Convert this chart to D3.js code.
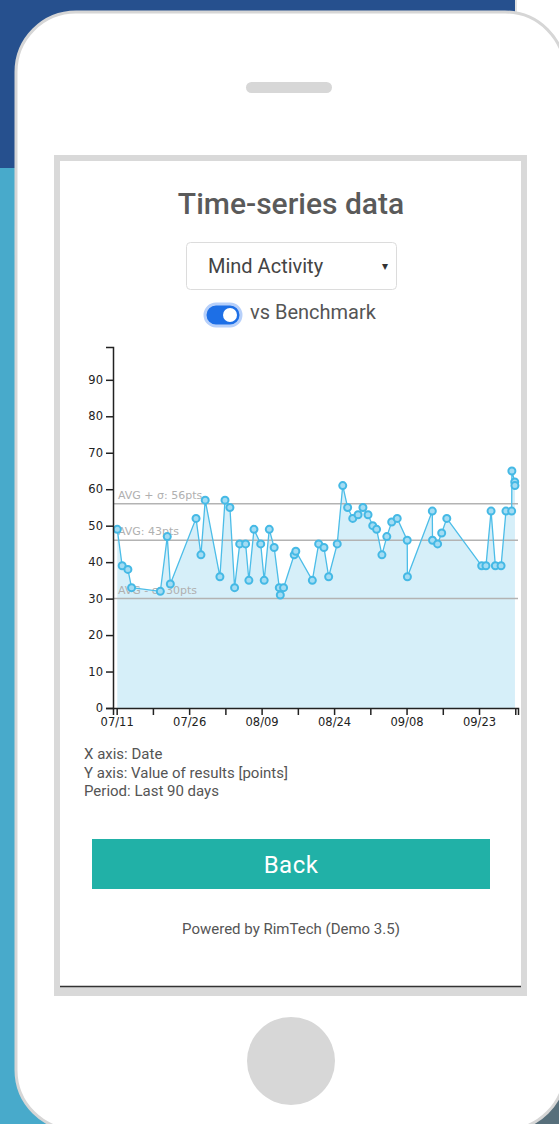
<!DOCTYPE html>
<html>
<head>
<meta charset="utf-8">
<script src="https://cdn.jsdelivr.net/npm/d3@7"></script>
<style>
  body { margin: 0; background: #fff; }
  svg { display: block; }
  .ui { font-family: Roboto, "Noto Sans", sans-serif; }
  .axis path, .axis line { stroke: #222; stroke-width: 1.5; }
</style>
</head>
<body>
<script>
// measurement times and values (Mind Activity)
const dates = ["07/11 10:00", "07/12 10:00", "07/13 14:00", "07/14 08:00", "07/20 05:00", "07/21 15:00",
  "07/22 06:00", "07/27 12:00", "07/28 12:00", "07/29 09:00", "08/01 09:00", "08/02 10:00",
  "08/03 10:00", "08/04 09:00", "08/05 10:00", "08/06 15:00", "08/07 07:00", "08/08 08:00",
  "08/09 17:00", "08/10 10:00", "08/11 11:00", "08/12 11:00", "08/13 12:00", "08/13 17:00",
  "08/14 09:00", "08/16 13:00", "08/16 21:00", "08/20 06:00", "08/21 13:00", "08/22 15:00",
  "08/23 14:00", "08/25 08:00", "08/26 11:00", "08/27 11:00", "08/28 12:00", "08/29 14:00",
  "08/30 14:00", "08/31 15:00", "09/01 14:00", "09/02 09:00", "09/03 11:00", "09/04 11:00",
  "09/05 11:00", "09/06 14:00", "09/08 15:00", "09/08 16:00", "09/13 18:00", "09/13 19:00",
  "09/14 20:00", "09/15 16:00", "09/16 17:00", "09/23 20:00", "09/24 17:00", "09/25 18:00",
  "09/26 15:00", "09/27 19:00", "09/28 19:00", "09/29 23:00", "09/30 00:00", "09/30 14:00",
  "09/30 15:00"];
const values = [49, 39, 38, 33, 32, 47,
  34, 52, 42, 57, 36, 57,
  55, 33, 45, 45, 35, 49,
  45, 35, 49, 44, 33, 31,
  33, 42, 43, 35, 45, 44,
  36, 45, 61, 55, 52, 53,
  55, 53, 50, 49, 42, 47,
  51, 52, 46, 36, 54, 46,
  45, 48, 52, 39, 39, 54,
  39, 39, 54, 54, 65, 62,
  61];

const xDomain = ["07/10 13:00", "10/01 06:00"];
const tickDates = ["07/11 07:00", "07/18 16:36", "07/26 02:12", "08/02 11:48", "08/09 21:24", "08/17 07:00",
  "08/24 16:36", "09/01 02:12", "09/08 11:48", "09/15 21:24", "09/23 07:00", "09/30 16:36"];
const yMax = 99;

const benchValues = [56, 46, 30];
const benchLabels = ["AVG + σ: 56pts", "AVG: 43pts", "AVG - σ: 30pts"];

const title = "Time-series data";
const selected = "Mind Activity";
const toggleLabel = "vs Benchmark";
const notes = ["X axis: Date", "Y axis: Value of results [points]", "Period: Last 90 days"];

const parse = d3.timeParse("%m/%d %H:%M");
const fmt = d3.timeFormat("%m/%d");
const points = dates.map((d, i) => ({ date: parse(d), value: values[i] }));

const W = 559, H = 1124;
const svg = d3.select("body").append("svg").attr("width", W).attr("height", H);

// page background behind the phone
svg.append("rect").attr("x", 0).attr("y", 0).attr("width", 515).attr("height", 168).attr("fill", "#26508e");
svg.append("rect").attr("x", 0).attr("y", 168).attr("width", 515).attr("height", H - 168).attr("fill", "#48aacb");
svg.append("rect").attr("x", 515).attr("y", 600).attr("width", 44).attr("height", H - 600).attr("fill", "#576f7b");
svg.append("line").attr("x1", 516).attr("x2", 516).attr("y1", 0).attr("y2", 20)
  .attr("stroke", "#e2e2e2").attr("stroke-width", 2);

// phone body
svg.append("rect").attr("x", 16).attr("y", 12).attr("width", 549).attr("height", 1118)
  .attr("rx", 60).attr("fill", "#fff").attr("stroke", "#d6d6d6").attr("stroke-width", 3);
svg.append("rect").attr("x", 246).attr("y", 82).attr("width", 86).attr("height", 11)
  .attr("rx", 5.5).attr("fill", "#d7d7d7");
svg.append("circle").attr("cx", 291).attr("cy", 1061).attr("r", 44).attr("fill", "#d7d7d7");

// screen
svg.append("rect").attr("x", 54).attr("y", 155).attr("width", 473).attr("height", 841).attr("fill", "#d9d9d9");
svg.append("rect").attr("x", 60).attr("y", 161).attr("width", 461).attr("height", 826).attr("fill", "#fff");
svg.append("line").attr("x1", 60).attr("x2", 521).attr("y1", 986.5).attr("y2", 986.5)
  .attr("stroke", "#333").attr("stroke-width", 1.5);

const ui = svg.append("g").attr("class", "ui");

ui.append("text").attr("x", 291).attr("y", 214).attr("text-anchor", "middle")
  .attr("font-size", 30).attr("font-weight", 500).attr("fill", "#5a5a5a").text(title);

// select box
ui.append("rect").attr("x", 186.5).attr("y", 242.5).attr("width", 210).attr("height", 47)
  .attr("rx", 4).attr("fill", "#fff").attr("stroke", "#dcdcdc");
ui.append("text").attr("x", 208).attr("y", 273).attr("font-size", 20).attr("fill", "#444").text(selected);
ui.append("text").attr("x", 385).attr("y", 270).attr("text-anchor", "middle")
  .attr("font-family", "DejaVu Sans").attr("font-size", 12).attr("fill", "#333").text("▾");

// toggle switch
ui.append("rect").attr("x", 205).attr("y", 304).attr("width", 36).attr("height", 22)
  .attr("rx", 11).attr("fill", "#1d6fe6").attr("stroke", "#b7d0fa").attr("stroke-width", 3);
ui.append("circle").attr("cx", 230).attr("cy", 315).attr("r", 7).attr("fill", "#fff");
ui.append("text").attr("x", 250).attr("y", 319).attr("font-size", 20).attr("fill", "#555").text(toggleLabel);

// chart
const x = d3.scaleTime().domain(xDomain.map(parse)).range([113, 518]);
const y = d3.scaleLinear().domain([0, yMax]).range([708, 347]);

const chart = svg.append("g");

chart.append("path").datum(points)
  .attr("fill", "#d6eff9")
  .attr("d", d3.area().x(d => x(d.date)).y0(y(0)).y1(d => y(d.value)));

chart.selectAll(".bench").data(benchValues).enter().append("line")
  .attr("class", "bench")
  .attr("x1", 113).attr("x2", 518)
  .attr("y1", d => y(d)).attr("y2", d => y(d))
  .attr("stroke", "#b3b3b3").attr("stroke-width", 1.5);

chart.selectAll(".bench-label").data(benchValues).enter().append("text")
  .attr("class", "bench-label")
  .attr("x", 118).attr("y", d => y(d) - 5)
  .attr("font-family", "DejaVu Sans, sans-serif").attr("font-size", 11)
  .attr("fill", "#b0b0b0")
  .text((d, i) => benchLabels[i]);

chart.append("path").datum(points)
  .attr("fill", "none").attr("stroke", "#4cbde8").attr("stroke-width", 1.3)
  .attr("d", d3.line().x(d => x(d.date)).y(d => y(d.value)));

chart.selectAll(".dot").data(points).enter().append("circle")
  .attr("class", "dot")
  .attr("cx", d => x(d.date)).attr("cy", d => y(d.value)).attr("r", 3.5)
  .attr("fill", "#a3dcf3").attr("stroke", "#45b9e5").attr("stroke-width", 2);

const xAxis = chart.append("g").attr("class", "axis")
  .attr("transform", "translate(0,708)")
  .call(d3.axisBottom(x).tickValues(tickDates.map(parse)).tickSize(7)
    .tickFormat((d, i) => i % 2 ? "" : fmt(d)));

const yAxis = chart.append("g").attr("class", "axis")
  .attr("transform", "translate(113,0)")
  .call(d3.axisLeft(y).ticks(10).tickSize(7));

[xAxis, yAxis].forEach(g => g.attr("font-family", "DejaVu Sans, sans-serif").attr("font-size", 11.5)
  .selectAll("text").attr("fill", "#222"));

// notes under the chart
ui.selectAll(".note").data(notes).enter().append("text")
  .attr("class", "note")
  .attr("x", 84).attr("y", (d, i) => 759 + i * 18.5)
  .attr("font-size", 15).attr("fill", "#555")
  .text(d => d);

// back button and footer
ui.append("rect").attr("x", 92).attr("y", 839).attr("width", 398).attr("height", 50).attr("fill", "#21b1a7");
ui.append("text").attr("x", 291).attr("y", 873).attr("text-anchor", "middle")
  .attr("font-size", 24).attr("fill", "#fff").attr("letter-spacing", 0.5).text("Back");
ui.append("text").attr("x", 291).attr("y", 934).attr("text-anchor", "middle")
  .attr("font-size", 15).attr("fill", "#555").text("Powered by RimTech (Demo 3.5)");
</script>
</body>
</html>
